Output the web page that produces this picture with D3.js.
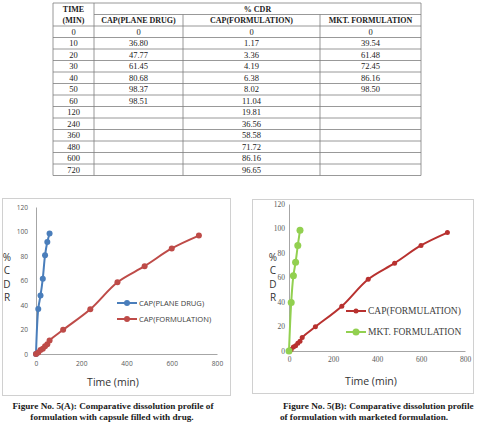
<!DOCTYPE html>
<html>
<head>
<meta charset="utf-8">
<script src="https://cdn.jsdelivr.net/npm/d3@7"></script>
<style>
  body { margin: 0; background: #fff; }
  svg { display: block; }
</style>
</head>
<body>
<div id="fig"></div>
<script>
// dissolution data, time in minutes
var times = [0, 10, 20, 30, 40, 50, 60, 120, 240, 360, 480, 600, 720];
var plainDrug = [0, 36.80, 47.77, 61.45, 80.68, 98.37, 98.51];
var formulation = [0, 1.17, 3.36, 4.19, 6.38, 8.02, 11.04, 19.81, 36.56, 58.58, 71.72, 86.16, 96.65];
var marketed = [0, 39.54, 61.48, 72.45, 86.16, 98.50];
// the plotted plain drug curve in fig 5(A) (differs from the table)
var plainDrugPlot = [0, 36.8, 47.8, 61.5, 80.7, 91.4, 98.4];

var subHeads = ["CAP(PLANE DRUG)", "CAP(FORMULATION)", "MKT. FORMULATION"];
var xTicks = [0, 200, 400, 600, 800];
var yTicks = [0, 20, 40, 60, 80, 100, 120];

var blue = "#4a7ebb", red = "#be4b48", red2 = "#b8312f", green = "#92d050";

var svg = d3.select("#fig").append("svg")
    .attr("width", 479)
    .attr("height", 443);

svg.append("rect").attr("width", 479).attr("height", 443).attr("fill", "#fff");

// ---------- table ----------
var colX = [53, 94, 183, 320, 421];
var rowH = 11.5, tblTop = 3;
var tbl = svg.append("g").attr("class", "table");
var nRows = times.length + 2;
var tblBottom = tblTop + nRows * rowH;
var ruleColor = "#7f7f7f";

function fmt(v) {
  if (v === undefined) return "";
  return v === 0 ? "0" : v.toFixed(2);
}

// horizontal rules
for (var r = 0; r <= nRows; r++) {
  var yy = tblTop + r * rowH;
  var x1 = (r == 1) ? colX[1] : colX[0];
  tbl.append("line")
    .attr("x1", x1).attr("x2", colX[4])
    .attr("y1", yy).attr("y2", yy)
    .attr("stroke", ruleColor).attr("stroke-width", 0.8);
}
// vertical rules
colX.forEach(function(x, i) {
  tbl.append("line")
    .attr("x1", x).attr("x2", x)
    .attr("y1", (i == 2 || i == 3) ? tblTop + rowH : tblTop).attr("y2", tblBottom)
    .attr("stroke", ruleColor).attr("stroke-width", 0.8);
});

var cellFont = "'Liberation Serif', 'DejaVu Serif', serif";
function cell(text, x, row, bold) {
  tbl.append("text")
    .attr("x", x)
    .attr("y", tblTop + row * rowH + rowH / 2)
    .attr("dy", "0.35em")
    .attr("text-anchor", "middle")
    .style("font-family", cellFont)
    .style("font-size", bold ? "8px" : "8.5px")
    .style("font-weight", bold ? "bold" : "normal")
    .attr("fill", "#222")
    .text(text);
}
cell("TIME", (colX[0] + colX[1]) / 2, 0, true);
cell("(MIN)", (colX[0] + colX[1]) / 2, 1, true);
cell("% CDR", (colX[1] + colX[4]) / 2, 0, true);
subHeads.forEach(function(h, i) {
  cell(h, (colX[i + 1] + colX[i + 2]) / 2, 1, true);
});
times.forEach(function(t, i) {
  cell(String(t), (colX[0] + colX[1]) / 2, i + 2);
  cell(fmt(plainDrug[i]), (colX[1] + colX[2]) / 2, i + 2);
  cell(fmt(formulation[i]), (colX[2] + colX[3]) / 2, i + 2);
  cell(fmt(marketed[i]), (colX[3] + colX[4]) / 2, i + 2);
});

// ---------- chart helper ----------
function drawChart(opt) {
  var g = svg.append("g");
  g.append("rect")
    .attr("x", opt.box[0]).attr("y", opt.box[1])
    .attr("width", opt.box[2]).attr("height", opt.box[3])
    .attr("fill", "none").attr("stroke", "#d0d0d0").attr("stroke-width", 1);

  var x = d3.scaleLinear().domain([0, 800]).range(opt.xr);
  var y = d3.scaleLinear().domain([0, 120]).range(opt.yr);

  var yAxis = d3.axisLeft(y).tickValues(yTicks).tickSize(0).tickPadding(opt.pad);
  var xAxis = d3.axisBottom(x).tickValues(xTicks).tickSize(0).tickPadding(opt.padX);

  var ga = g.append("g").attr("transform", "translate(" + opt.xr[0] + ",0)").call(yAxis);
  var gb = g.append("g").attr("transform", "translate(0," + opt.yr[0] + ")").call(xAxis);
  [ga, gb].forEach(function(a) {
    a.select(".domain").attr("stroke", "#a6a6a6");
    a.selectAll("text")
      .style("font-family", opt.tickFont)
      .style("font-size", opt.tickSize)
      .attr("fill", "#595959");
  });

  // y label, stacked letters
  ["%", "C", "D", "R"].forEach(function(ch, i) {
    g.append("text")
      .attr("x", opt.ylab[0]).attr("y", opt.ylab[1] + i * 13.3)
      .attr("text-anchor", "middle")
      .style("font-family", "'Open Sans', sans-serif")
      .style("font-size", "10px")
      .attr("fill", "#333")
      .text(ch);
  });
  g.append("text")
    .attr("x", opt.xlab[0]).attr("y", opt.xlab[1])
    .attr("text-anchor", "middle")
    .style("font-family", "'Open Sans', sans-serif")
    .style("font-size", "10.5px")
    .attr("fill", "#333")
    .text("Time (min)");

  opt.series.forEach(function(s) {
    var pts = s.values.map(function(v, i) { return [times[i], v]; });
    var ln = d3.line()
      .x(function(d) { return x(d[0]); })
      .y(function(d) { return y(d[1]); })
      .curve(d3.curveCatmullRom.alpha(0.5));
    g.append("path").datum(pts)
      .attr("d", ln).attr("fill", "none")
      .attr("stroke", s.color).attr("stroke-width", 2);
    g.selectAll(null).data(pts).enter().append("circle")
      .attr("cx", function(d) { return x(d[0]); })
      .attr("cy", function(d) { return y(d[1]); })
      .attr("r", s.r).attr("fill", s.color);
  });

  // legend
  opt.legend.forEach(function(l) {
    var s = opt.series[l.idx];
    g.append("line")
      .attr("x1", l.x).attr("x2", l.x + 20)
      .attr("y1", l.y).attr("y2", l.y)
      .attr("stroke", s.color).attr("stroke-width", 2);
    g.append("circle").attr("cx", l.x + 10).attr("cy", l.y).attr("r", s.r).attr("fill", s.color);
    g.append("text")
      .attr("x", l.x + 22).attr("y", l.y).attr("dy", "0.35em")
      .style("font-family", opt.legFont)
      .style("font-size", opt.legSize)
      .attr("fill", "#404040")
      .text(s.name);
  });
}

drawChart({
  box: [2.5, 198.5, 228, 197],
  xr: [36, 217], yr: [354, 207],
  pad: 8, padX: 7,
  tickFont: "'Open Sans', 'Liberation Sans', sans-serif", tickSize: "6.6px",
  ylab: [7, 261], xlab: [113, 386],
  legFont: "'Open Sans', 'Liberation Sans', sans-serif", legSize: "7.6px",
  series: [
    { name: "CAP(PLANE DRUG)", values: plainDrugPlot, color: blue, r: 3 },
    { name: "CAP(FORMULATION)", values: formulation, color: red, r: 3 }
  ],
  legend: [{ idx: 0, x: 117, y: 303 }, { idx: 1, x: 117, y: 319 }]
});

drawChart({
  box: [252.5, 199.5, 221, 194],
  xr: [289, 465], yr: [351, 204],
  pad: 4, padX: 6,
  tickFont: "'Liberation Serif', serif", tickSize: "7.5px",
  ylab: [273, 261], xlab: [371, 385],
  legFont: "'Liberation Serif', serif", legSize: "9.5px",
  series: [
    { name: "CAP(FORMULATION)", values: formulation, color: red2, r: 2.5 },
    { name: "MKT. FORMULATION", values: marketed, color: green, r: 3.5 }
  ],
  legend: [{ idx: 0, x: 346, y: 311 }, { idx: 1, x: 346, y: 332 }]
});

// captions
var capFont = "'Liberation Serif', 'DejaVu Serif', serif";
function caption(text, x, yy) {
  svg.append("text")
    .attr("x", x).attr("y", yy)
    .attr("text-anchor", "middle")
    .style("font-family", capFont)
    .style("font-size", "9.2px")
    .style("font-weight", "bold")
    .attr("fill", "#1a1a1a")
    .text(text);
}
caption("Figure No. 5(A): Comparative dissolution profile of", 113, 409);
caption("formulation with capsule filled with drug.", 112, 420);
svg.append("text")
  .attr("x", 283).attr("y", 409)
  .style("font-family", capFont).style("font-size", "9.2px").style("font-weight", "bold")
  .attr("fill", "#1a1a1a")
  .text("Figure No. 5(B): Comparative dissolution profile");
caption("of formulation with marketed formulation.", 364, 420);
</script>
</body>
</html>
